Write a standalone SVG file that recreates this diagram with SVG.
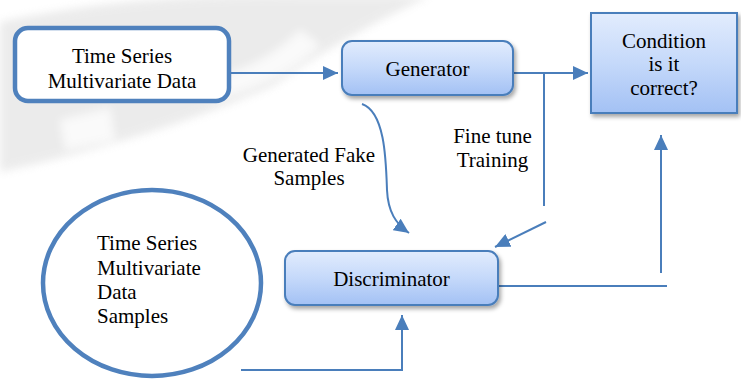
<svg xmlns="http://www.w3.org/2000/svg" width="741" height="379" viewBox="0 0 741 379">
<style>
text{font-family:"Liberation Serif","Times New Roman",serif;font-size:21px;fill:#000}
.c{text-anchor:middle}
.box{fill:url(#g);stroke:#4a7ebb;stroke-width:2}
.ln{fill:none;stroke:#4a7ebb;stroke-width:2}
.ar{fill:none;stroke:#4a7ebb;stroke-width:2;marker-end:url(#ah)}
</style>
<defs>
<linearGradient id="g" x1="0" y1="0" x2="0" y2="1">
<stop offset="0" stop-color="#e2ecfd"/>
<stop offset="0.5" stop-color="#c5d9fa"/>
<stop offset="1" stop-color="#a3c1f4"/>
</linearGradient>
<filter id="sh" x="-10%" y="-10%" width="125%" height="140%">
<feDropShadow dx="2" dy="3" stdDeviation="2" flood-color="#000" flood-opacity="0.35"/>
</filter>
<filter id="soft"><feGaussianBlur stdDeviation="4"/></filter>
<marker id="ah" viewBox="0 0 15 14" refX="15" refY="7" markerWidth="15" markerHeight="14" markerUnits="userSpaceOnUse" orient="auto">
<path d="M0,0 L15,7 L0,14 z" fill="#4a7ebb"/>
</marker>
</defs>
<rect width="741" height="379" fill="#fff"/>
<g id="watermark" opacity="0.45" filter="url(#soft)">
<path d="M0,22 Q140,-8 300,-4 L430,-4 Q345,35 275,85 Q150,140 0,172 Z" fill="#d4d4d4"/>
<path d="M60,120 L110,108 L115,140 L65,150 Z" fill="#f4f4f4"/>
<path d="M200,80 Q260,70 300,30 L320,45 Q280,85 210,100 Z" fill="#f4f4f4"/>
</g>
<g id="connectors">
<path class="ar" d="M231,73 L338,73"/>
<path class="ar" d="M509,73 L588,73"/>
<path class="ln" d="M544,73 L544,206"/>
<path class="ar" d="M546,222 L495,247"/>
<path class="ar" d="M362,104 C385,112 386,160 387,190 C388,212 396,224 409,233"/>
<path class="ln" d="M498,286 L667,286"/>
<path class="ar" d="M661,273 L661,135"/>
<path class="ln" d="M241,370 L403,370"/>
<path class="ar" d="M402,370 L402,315"/>
</g>
<g id="input">
<rect x="15" y="28" width="214" height="73" rx="13" fill="#fff" stroke="#4f81bd" stroke-width="4.5"/>
<text class="c" x="122" y="63">Time Series</text>
<text class="c" x="122" y="88">Multivariate Data</text>
</g>
<g id="generator">
<rect class="box" x="342" y="41" width="171" height="54" rx="10" filter="url(#sh)"/>
<text class="c" x="427.5" y="76">Generator</text>
</g>
<g id="condition">
<rect class="box" x="591" y="13" width="146" height="100" filter="url(#sh)"/>
<text class="c" x="664" y="48">Condition</text>
<text class="c" x="664" y="71">is it</text>
<text class="c" x="664" y="95">correct?</text>
</g>
<g id="discriminator">
<rect class="box" x="285" y="251" width="213" height="54" rx="10" filter="url(#sh)"/>
<text class="c" x="391.5" y="286">Discriminator</text>
</g>
<g id="samples">
<ellipse cx="152" cy="283" rx="109" ry="93" fill="#fff" stroke="#4f81bd" stroke-width="4.5"/>
<text x="97" y="250">Time Series</text>
<text x="97" y="275">Multivariate</text>
<text x="97" y="299">Data</text>
<text x="97" y="323">Samples</text>
</g>
<g id="labels">
<text class="c" x="309" y="162">Generated Fake</text>
<text class="c" x="309" y="185">Samples</text>
<text class="c" x="492.5" y="143">Fine tune</text>
<text class="c" x="492.5" y="167">Training</text>
</g>
</svg>
